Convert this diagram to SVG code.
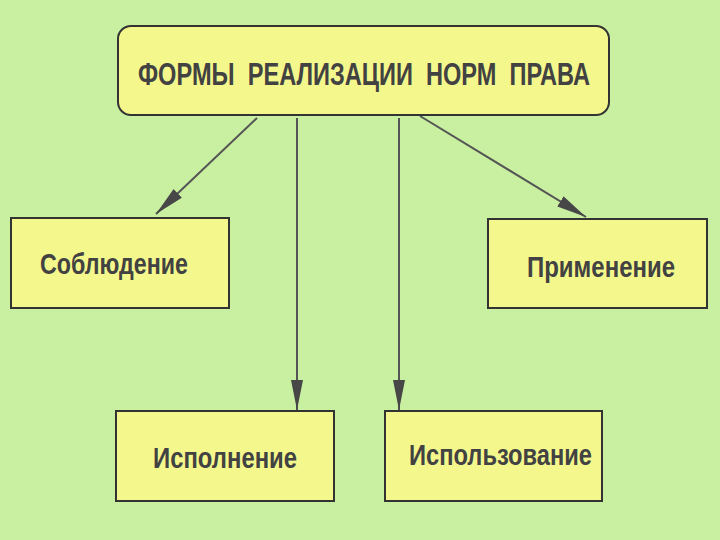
<svg xmlns="http://www.w3.org/2000/svg" width="720" height="540" viewBox="0 0 720 540">
<defs>
<style>
.box{fill:#f4f88c;stroke:#333333;stroke-width:2}
.t{font-family:"Liberation Sans",Arial,sans-serif;font-weight:bold;fill:#424242;white-space:pre}
.c{stroke:#555555;stroke-width:2;fill:none;marker-end:url(#ah)}
</style>
<marker id="ah" viewBox="0 0 30 12" refX="30" refY="6" markerWidth="30" markerHeight="12" markerUnits="userSpaceOnUse" orient="auto">
<path d="M0,0 L30,6 L0,12 Z" fill="#474747"/>
</marker>
</defs>
<rect width="720" height="540" fill="#c8f0a0"/>
<g id="connectors">
<line class="c" x1="257" y1="118" x2="156" y2="214"/>
<line class="c" x1="297" y1="118" x2="297" y2="410"/>
<line class="c" x1="399" y1="118" x2="399" y2="410"/>
<line class="c" x1="420" y1="116" x2="586" y2="217"/>
</g>
<g id="title">
<rect class="box" x="118" y="26" width="491" height="89" rx="13"/>
<text class="t" transform="translate(138,85) scale(1,1.18)" x="0" y="0" font-size="26" textLength="452" lengthAdjust="spacingAndGlyphs">ФОРМЫ  РЕАЛИЗАЦИИ  НОРМ  ПРАВА</text>
</g>
<g id="sobl">
<rect class="box" x="11" y="218" width="218" height="90"/>
<text class="t" x="40" y="274" font-size="30" textLength="148" lengthAdjust="spacingAndGlyphs">Соблюдение</text>
</g>
<g id="prim">
<rect class="box" x="488" y="219" width="219" height="89"/>
<text class="t" x="527" y="277" font-size="30" textLength="148" lengthAdjust="spacingAndGlyphs">Применение</text>
</g>
<g id="isp">
<rect class="box" x="116" y="411" width="218" height="90"/>
<text class="t" x="153" y="468" font-size="30" textLength="144" lengthAdjust="spacingAndGlyphs">Исполнение</text>
</g>
<g id="ispolz">
<rect class="box" x="385" y="411" width="217" height="90"/>
<text class="t" x="409" y="465" font-size="30" textLength="183" lengthAdjust="spacingAndGlyphs">Использование</text>
</g>
</svg>
